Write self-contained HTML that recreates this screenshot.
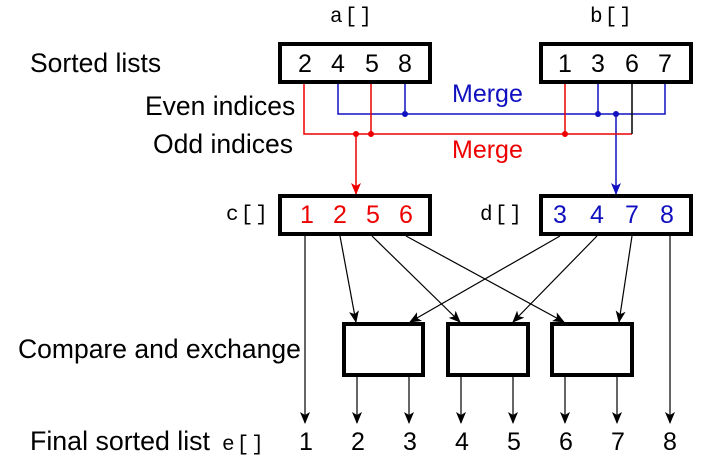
<!DOCTYPE html>
<html><head><meta charset="utf-8"><style>
html,body{margin:0;padding:0;background:#fff;}
svg{display:block;}
text{font-family:"Liberation Sans",sans-serif;font-size:25px;}
.lbl{font-size:26.5px;}
.mono{font-family:"Liberation Mono",monospace;font-size:21px;letter-spacing:2px;}
</style></head><body>
<svg width="708" height="465" viewBox="0 0 708 465">
<defs>
<marker id="ak" markerWidth="12" markerHeight="10" refX="11" refY="5" orient="auto" markerUnits="userSpaceOnUse" viewBox="0 0 12 10"><path d="M0,0 L12,5 L0,10 L3,5 Z" fill="#000"/></marker>
<marker id="ar" markerWidth="12" markerHeight="10" refX="11" refY="5" orient="auto" markerUnits="userSpaceOnUse" viewBox="0 0 12 10"><path d="M0,0 L12,5 L0,10 L3,5 Z" fill="#e00"/></marker>
<marker id="ab" markerWidth="12" markerHeight="10" refX="11" refY="5" orient="auto" markerUnits="userSpaceOnUse" viewBox="0 0 12 10"><path d="M0,0 L12,5 L0,10 L3,5 Z" fill="#1010c0"/></marker>
</defs>

<text class="lbl" x="30" y="72">Sorted lists</text>
<text class="lbl" x="145" y="115">Even indices</text>
<text class="lbl" x="153" y="153">Odd indices</text>
<text class="lbl" x="18" y="358">Compare and exchange</text>
<text class="lbl" x="30" y="450" textLength="180" lengthAdjust="spacingAndGlyphs">Final sorted list</text>
<text class="mono" x="222" y="450">e[]</text>
<text class="mono" x="330" y="22">a[]</text>
<text class="mono" x="590" y="22">b[]</text>
<text class="mono" x="226" y="220">c[]</text>
<text class="mono" x="480" y="220">d[]</text>

<g stroke="#1010c0" stroke-width="1.5" fill="none">
<polyline points="338,83 338,114 665,114 665,83"/>
<line x1="405" y1="83" x2="405" y2="114"/>
<line x1="598" y1="83" x2="598" y2="114"/>
<line x1="616" y1="114" x2="616" y2="194" marker-end="url(#ab)"/>
</g>
<g fill="#1010c0"><circle cx="405" cy="114" r="3"/><circle cx="598" cy="114" r="3"/><circle cx="616" cy="114" r="3"/></g>
<g stroke="#e00" stroke-width="1.5" fill="none">
<polyline points="304,83 304,134 632,134"/>
<line x1="371" y1="83" x2="371" y2="134"/>
<line x1="565" y1="83" x2="565" y2="134"/>
<line x1="356" y1="134" x2="356" y2="194" marker-end="url(#ar)"/>
</g>
<line x1="632" y1="83" x2="632" y2="134" stroke="#000" stroke-width="1.5"/>
<g fill="#e00"><circle cx="356" cy="134" r="3"/><circle cx="371" cy="134" r="3"/><circle cx="565" cy="134" r="3"/></g>
<text x="452" y="102" fill="#1010c0">Merge</text>
<text x="452" y="158" fill="#e00">Merge</text>

<g fill="#fff" stroke="#000" stroke-width="4">
<rect x="280" y="44" width="150" height="38"/>
<rect x="541" y="44" width="150" height="38"/>
<rect x="280" y="196" width="150" height="38"/>
<rect x="541" y="196" width="150" height="38"/>
<rect x="344" y="324" width="79" height="51"/>
<rect x="448" y="324" width="80" height="51"/>
<rect x="552" y="324" width="80" height="51"/>
</g>
<g text-anchor="middle">
<g><text x="305" y="72">2</text><text x="338" y="72">4</text><text x="372" y="72">5</text><text x="405" y="72">8</text></g>
<g><text x="565" y="72">1</text><text x="598" y="72">3</text><text x="632" y="72">6</text><text x="665" y="72">7</text></g>
<g fill="#e00"><text x="307" y="223">1</text><text x="340" y="223">2</text><text x="373" y="223">5</text><text x="406" y="223">6</text></g>
<g fill="#1010c0"><text x="560" y="223">3</text><text x="597" y="223">4</text><text x="632" y="223">7</text><text x="667" y="223">8</text></g>
<g><text x="306" y="450">1</text><text x="358" y="450">2</text><text x="410" y="450">3</text><text x="462" y="450">4</text><text x="514" y="450">5</text><text x="566" y="450">6</text><text x="618" y="450">7</text><text x="670" y="450">8</text></g>
</g>

<g stroke="#000" stroke-width="1.2" fill="none">
<line x1="305" y1="236" x2="305" y2="423" marker-end="url(#ak)"/>
<line x1="670" y1="236" x2="670" y2="423" marker-end="url(#ak)"/>
<line x1="340" y1="236" x2="356" y2="322" marker-end="url(#ak)"/>
<line x1="372" y1="236" x2="460" y2="322" marker-end="url(#ak)"/>
<line x1="406" y1="236" x2="564" y2="322" marker-end="url(#ak)"/>
<line x1="560" y1="236" x2="410" y2="322" marker-end="url(#ak)"/>
<line x1="597" y1="236" x2="513" y2="322" marker-end="url(#ak)"/>
<line x1="632" y1="236" x2="619" y2="322" marker-end="url(#ak)"/>
<line x1="357" y1="376" x2="357" y2="423" marker-end="url(#ak)"/>
<line x1="409" y1="376" x2="409" y2="423" marker-end="url(#ak)"/>
<line x1="461" y1="376" x2="461" y2="423" marker-end="url(#ak)"/>
<line x1="513" y1="376" x2="513" y2="423" marker-end="url(#ak)"/>
<line x1="565" y1="376" x2="565" y2="423" marker-end="url(#ak)"/>
<line x1="617" y1="376" x2="617" y2="423" marker-end="url(#ak)"/>
</g>
</svg>
</body></html>
